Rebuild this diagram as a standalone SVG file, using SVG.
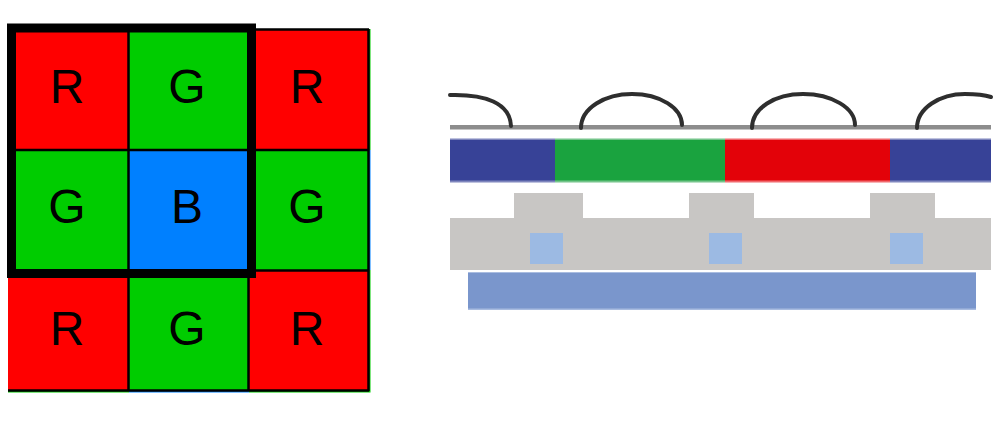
<svg xmlns="http://www.w3.org/2000/svg" width="998" height="426" viewBox="0 0 998 426">
<style>
.r{fill:#ff0000}.g{fill:#00cc00}.b{fill:#0080ff}
.l{fill:#000;font-family:"Liberation Sans",Arial,sans-serif;font-size:48px;text-anchor:middle}
.arc{fill:none;stroke:#2e2e2e;stroke-width:4;stroke-linecap:round;filter:url(#s)}
.gray{fill:#c8c6c4}.well{fill:#9cbae3}
</style>
<defs><filter id="s" x="-10%" y="-10%" width="120%" height="120%"><feGaussianBlur stdDeviation="0.7"/></filter></defs>
<rect width="998" height="426" fill="#fff"/>
<g id="bayer-grid">
<rect class="b" x="369" y="150" width="1.500" height="120"/>
<rect class="g" x="369" y="29" width="1.500" height="121"/>
<rect class="g" x="369" y="270" width="1.500" height="122.500"/>
<rect class="g" x="8" y="391" width="121" height="1.500"/>
<rect class="b" x="129" y="391" width="120" height="1.500"/>
<rect class="g" x="249" y="391" width="120" height="1.500"/>
<rect class="r" x="8" y="29" width="121" height="121"/>
<rect class="g" x="129" y="29" width="120" height="121"/>
<rect class="r" x="249" y="29" width="120" height="121"/>
<rect class="g" x="8" y="150" width="121" height="120"/>
<rect class="b" x="129" y="150" width="120" height="120"/>
<rect class="g" x="249" y="150" width="120" height="120"/>
<rect class="r" x="8" y="270" width="121" height="121"/>
<rect class="g" x="129" y="270" width="120" height="121"/>
<rect class="r" x="249" y="270" width="120" height="121"/>
<path d="M128.500 29V391M248.500 29V391M8 150H369M8 270.500H369M8 390.500H369M368.500 29V391M249 29.500H369" fill="none" stroke="#000" stroke-width="2.500"/>
<rect x="11.500" y="28" width="240" height="245.500" fill="none" stroke="#000" stroke-width="9"/>
<text class="l" x="67" y="103">R</text><text class="l" x="187" y="103">G</text><text class="l" x="307" y="103">R</text>
<text class="l" x="67" y="223">G</text><text class="l" x="187" y="223">B</text><text class="l" x="307" y="223">G</text>
<text class="l" x="67" y="345">R</text><text class="l" x="187" y="345">G</text><text class="l" x="307" y="345">R</text>
</g>
<g id="sensor-section">
<rect x="450" y="125" width="541" height="4.500" fill="#8d8d8d" filter="url(#s)"/>
<path class="arc" d="M450 95C485 94 510 103 511 126"/>
<path class="arc" d="M581 128C581 108 605 94 632 94C660 94 682 108 682 125"/>
<path class="arc" d="M752 128C752 108 775 94 803 94C832 94 855 108 855 125"/>
<path class="arc" d="M917 128C917 108 940 94 965 94C975 94 985 95 991 97"/>
<rect x="450" y="138.500" width="105" height="44" fill="#7f86bd"/>
<rect x="555" y="138.500" width="170" height="44" fill="#74c48a"/>
<rect x="725" y="138.500" width="165" height="44" fill="#f0686c"/>
<rect x="890" y="138.500" width="101" height="44" fill="#7f86bd"/>
<rect x="450" y="140" width="105" height="40.500" fill="#374297"/>
<rect x="555" y="140" width="170" height="40.500" fill="#1aa33f"/>
<rect x="725" y="140" width="165" height="40.500" fill="#e30209"/>
<rect x="890" y="140" width="101" height="40.500" fill="#374297"/>
<path class="gray" d="M450 218H514V193H583V218H689V193H754V218H870V193H935V218H991V270H450Z"/>
<rect class="well" x="530" y="233" width="33" height="31"/>
<rect class="well" x="709" y="233" width="33" height="31"/>
<rect class="well" x="890" y="233" width="33" height="31"/>
<rect x="468" y="272" width="508" height="38" fill="#a9bce0"/>
<rect x="468" y="273" width="508" height="35.500" fill="#7a96cc"/>
</g>
</svg>
